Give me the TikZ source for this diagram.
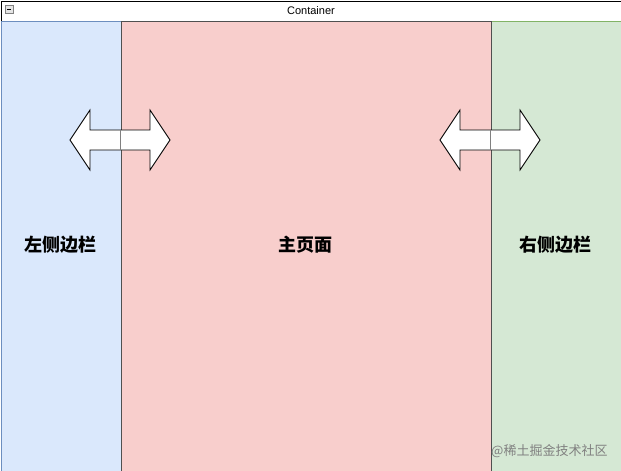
\documentclass[tikz,border=0pt]{standalone}
\usepackage{fontspec}
\setmainfont{Liberation Sans}
\newfontfamily\cjk{Noto Sans CJK SC}
\definecolor{bstroke}{RGB}{108,142,191}
\definecolor{bfill}{RGB}{218,232,252}
\definecolor{gstroke}{RGB}{130,179,102}
\definecolor{gfill}{RGB}{213,232,212}
\definecolor{rstroke}{RGB}{80,80,80}
\definecolor{rfill}{RGB}{248,206,204}
\begin{document}
\begin{tikzpicture}[x=1pt,y=-1pt,
  lbl/.style={font=\cjk\bfseries\fontsize{18}{20}\selectfont},
  panel/.style={minimum height=450pt,anchor=north west,inner sep=0pt},
  dbl/.style={draw=black,fill=white,line width=0.9pt,line join=miter}]
\useasboundingbox (0,0) rectangle (621,471);
\fill[white] (0,0) rectangle (621,471);
\node[draw=black,line width=0.9pt,minimum width=620pt,minimum height=20pt,anchor=north west,inner sep=0pt,font=\fontsize{11}{13}\selectfont] (hdr) at (0.5,0.5) {Container};
\node[draw=gray,fill=gray!20,minimum size=8pt,inner sep=0pt] (ic) at (9,9.5) {};
\draw[line width=0.7pt] (ic.west)++(2,0) -- ++(4,0);
\node[panel,draw=bstroke,fill=bfill,minimum width=120pt] (left) at (0.5,20.5) {};
\node[panel,draw=gstroke,fill=gfill,minimum width=130pt] (right) at (490.5,20.5) {};
\node[panel,draw=rstroke,fill=rfill,minimum width=370pt] (main) at (120.5,20.5) {};
\draw[dbl] (70,140) -- (90,110) -- (90,130) -- (150,130) -- (150,110) -- (170,140) -- (150,170) -- (150,150) -- (90,150) -- (90,170) -- cycle;
\draw[dbl] (440,140) -- (460,110) -- (460,130) -- (520,130) -- (520,110) -- (540,140) -- (520,170) -- (520,150) -- (460,150) -- (460,170) -- cycle;
\draw[gray] (120.5,130) -- (120.5,150);
\draw[gray] (490.5,130) -- (490.5,150);
\node[lbl] (tl) at (60,245) {左侧边栏};
\node[lbl] (tm) at (305,245) {主页面};
\node[lbl] (tr) at (555,245) {右侧边栏};
\node[font=\cjk\fontsize{13}{15}\selectfont,text=gray,anchor=west,inner sep=0pt] (wm) at (491,451) {@稀土掘金技术社区};
\end{tikzpicture}
\end{document}
